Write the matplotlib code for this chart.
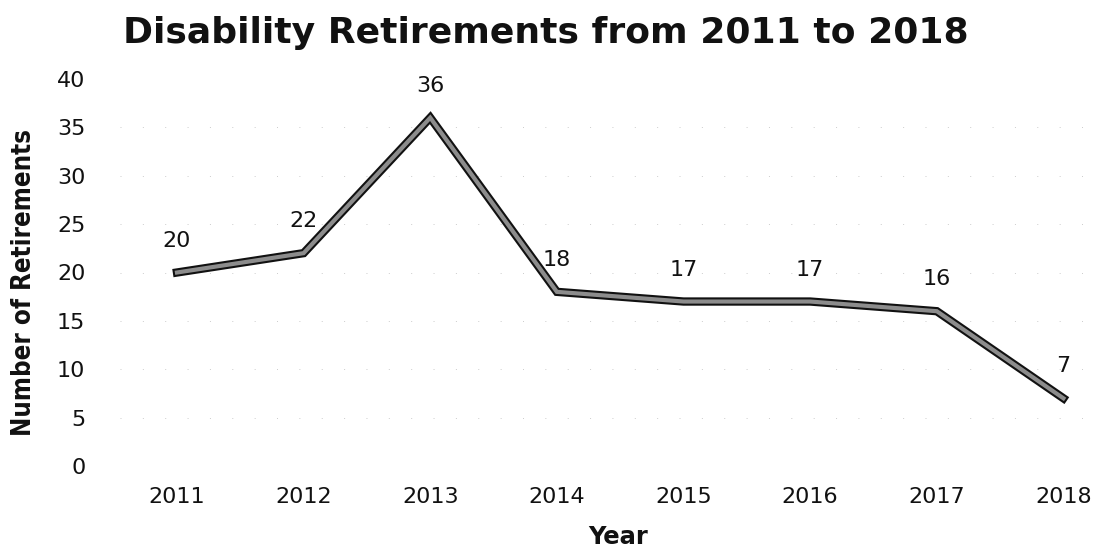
import matplotlib
matplotlib.use("Agg")
import matplotlib.pyplot as plt
import matplotlib.patheffects as pe

plt.rcParams.update({
    "font.family": "DejaVu Sans",
    "axes.spines.top": False,
    "axes.spines.right": False,
})

years = [2011, 2012, 2013, 2014, 2015, 2016, 2017, 2018]
retirements = [20, 22, 36, 18, 17, 17, 16, 7]
y_ticks = [0, 5, 10, 15, 20, 25, 30, 35, 40]

W, H = 1099, 548
fig = plt.figure(figsize=(W / 100, H / 100), dpi=100)
ax = fig.add_axes([120 / W, (H - 466) / H, 970 / W, (466 - 79) / H])

# horizontal gridlines, very faint dotted like the scan
for yv in y_ticks[:-1]:
    ax.axhline(yv, color="#cccccc", linewidth=0.7, linestyle=(0, (1, 22)), zorder=1)

ax.plot(years, retirements, color="#8c8c8c", linewidth=3.0, solid_joinstyle="miter",
        path_effects=[pe.Stroke(linewidth=6.0, foreground="#111111"), pe.Normal()],
        zorder=5)

for x, y in zip(years, retirements):
    ax.annotate(f"{y}", (x, y), xytext=(0, 23), textcoords="offset points",
                ha="center", va="center", fontsize=16, color="#111111")

ax.set_xlim(2010.55, 2018.21)
ax.set_ylim(0, 40)
ax.set_xticks(years)
ax.set_yticks(y_ticks)
ax.tick_params(axis="both", length=0, labelsize=16, colors="#111111")
ax.tick_params(axis="y", pad=25)
ax.tick_params(axis="x", pad=15)
for s in ax.spines.values():
    s.set_visible(False)

fig.text(546 / W, 1 - 33 / H, "Disability Retirements from 2011 to 2018",
         ha="center", va="center", fontsize=26, fontweight="bold", color="#111111")
fig.text(618 / W, 1 - 537 / H, "Year", ha="center", va="center",
         fontsize=17.5, fontweight="bold", color="#111111")
fig.text(24 / W, 1 - 283 / H, "Number of Retirements", ha="center", va="center",
         rotation=90, fontsize=18.5, fontstretch="condensed", fontweight="bold",
         color="#111111")

fig.savefig("out.png", dpi=100)
